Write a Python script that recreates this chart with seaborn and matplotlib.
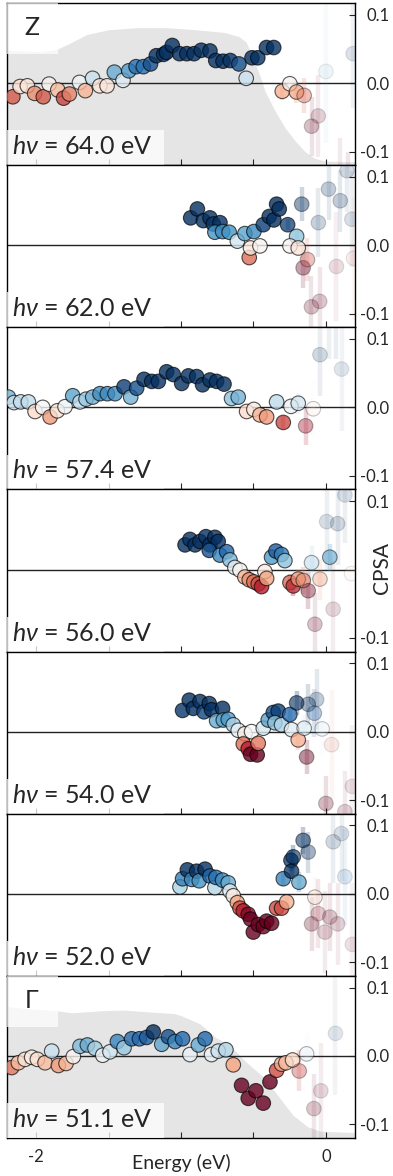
import numpy as np
import pandas as pd
import matplotlib
matplotlib.use('Agg')
import matplotlib.pyplot as plt
from matplotlib.patches import Rectangle
import seaborn as sns

# photon energies of the 7 panels (top to bottom)
hv_labels = ['64.0', '62.0', '57.4', '56.0', '54.0', '52.0', '51.1']

# panel 1 (Z)
e1 = [-2.16, -2.11, -2.06, -2.01, -1.95, -1.91, -1.85, -1.81, -1.77, -1.70, -1.66, -1.61, -1.56, -1.51,
      -1.46, -1.40, -1.36, -1.31, -1.26, -1.21, -1.17, -1.12, -1.10, -1.06, -1.01, -0.96, -0.91, -0.86,
      -0.80, -0.76, -0.71, -0.66, -0.60, -0.55, -0.51, -0.47, -0.41, -0.36]
v1 = [-0.020, -0.005, -0.004, -0.015, -0.020, -0.0015, -0.010, -0.022, -0.016, 0.001, -0.011, 0.007, -0.004, -0.004,
      0.016, 0.004, 0.018, 0.024, 0.024, 0.028, 0.040, 0.042, 0.045, 0.055, 0.043, 0.043, 0.043, 0.048,
      0.047, 0.033, 0.032, 0.033, 0.028, 0.007, 0.037, 0.037, 0.052, 0.052]
e1t = [-0.301, -0.249, -0.203, -0.150, -0.099, -0.053, 0.0, 0.188, 0.10, 0.15]
v1t = [-0.012, -0.001, -0.013, -0.018, -0.063, -0.048, 0.017, 0.043, -0.14, -0.15]
err1t = [0.012, 0.015, 0.016, 0.026, 0.043, 0.06, 0.105, 0.08, 0.06, 0.05]

# panel 2
e2 = [-0.933, -0.887, -0.846, -0.800, -0.777, -0.731, -0.766, -0.713, -0.667, -0.611, -0.559, -0.529, -0.520,
      -0.497, -0.455, -0.432, -0.391, -0.359, -0.340, -0.322]
v2 = [0.040, 0.053, 0.036, 0.040, 0.031, 0.033, 0.019, 0.020, 0.019, 0.006, 0.017, -0.018, -0.004,
      0.020, -0.001, 0.030, 0.042, 0.037, 0.060, 0.053]
e2t = [-0.264, -0.202, -0.248, -0.191, -0.167, -0.157, -0.127, -0.100, -0.052, -0.043, 0.018, 0.073, 0.099,
       0.145, 0.179, 0.191]
v2t = [0.030, 0.013, -0.001, -0.004, 0.060, -0.033, -0.021, -0.090, 0.033, -0.082, 0.082, -0.031, 0.065,
       0.109, 0.038, -0.019]
err2t = [0.008, 0.01, 0.01, 0.012, 0.025, 0.03, 0.032, 0.045, 0.05, 0.05, 0.045, 0.08, 0.045, 0.06, 0.07, 0.09]

# panel 3
e3 = [-2.191, -2.152, -2.106, -2.053, -2.007, -1.954, -1.903, -1.853, -1.800, -1.747, -1.697, -1.655, -1.609,
      -1.559, -1.508, -1.455, -1.393, -1.347, -1.306, -1.255, -1.202, -1.156, -1.099, -1.053, -0.995, -0.949,
      -0.892, -0.851, -0.800, -0.754, -0.703, -0.651, -0.605, -0.547, -0.497, -0.455, -0.409, -0.340]
v3 = [0.015, 0.007, 0.008, 0.008, -0.006, 0.0, -0.014, -0.005, 0.001, 0.017, 0.008, 0.012, 0.015,
      0.020, 0.020, 0.020, 0.030, 0.015, 0.028, 0.041, 0.038, 0.038, 0.052, 0.048, 0.035, 0.046,
      0.045, 0.033, 0.040, 0.038, 0.034, 0.013, 0.015, -0.006, -0.003, -0.011, -0.014, 0.008]
e3t = [-0.294, -0.241, -0.191, -0.140, -0.087, -0.041, 0.108, 0.02, 0.07]
v3t = [-0.022, 0.0015, 0.006, -0.027, -0.002, 0.077, 0.056, 0.14, 0.13]
err3t = [0.01, 0.012, 0.015, 0.028, 0.04, 0.06, 0.09, 0.07, 0.06]

# panel 4
e4 = [-0.972, -0.938, -0.903, -0.869, -0.828, -0.800, -0.766, -0.743, -0.805, -0.731, -0.685, -0.662, -0.628,
      -0.593, -0.559, -0.529, -0.497, -0.467, -0.444, -0.421, -0.409, -0.375, -0.345, -0.306, -0.283]
v4 = [0.036, 0.044, 0.036, 0.041, 0.048, 0.036, 0.047, 0.041, 0.028, 0.021, 0.026, 0.014, 0.003,
      -0.001, -0.011, -0.015, -0.018, -0.021, -0.025, -0.003, -0.013, 0.018, 0.027, 0.022, 0.013]
e4t = [-0.248, -0.225, -0.191, -0.156, -0.122, -0.099, -0.076, -0.041, 0.005, 0.027, 0.050, 0.081, 0.131, 0.177]
v4t = [-0.019, -0.024, -0.014, -0.016, -0.031, 0.010, -0.080, -0.014, 0.070, 0.018, -0.058, 0.067, 0.109, -0.006]
err4t = [0.012, 0.014, 0.015, 0.02, 0.027, 0.025, 0.045, 0.03, 0.07, 0.02, 0.07, 0.06, 0.07, 0.09]

# panel 5
e5 = [-0.989, -0.943, -0.915, -0.869, -0.841, -0.805, -0.789, -0.713, -0.754, -0.708, -0.674, -0.639, -0.605,
      -0.559, -0.513, -0.570, -0.536, -0.520, -0.474, -0.467, -0.432, -0.398, -0.363, -0.329, -0.352, -0.306]
v5 = [0.031, 0.046, 0.034, 0.044, 0.029, 0.041, 0.032, 0.034, 0.016, 0.017, 0.018, 0.010, 0.002,
      -0.003, 0.0, -0.018, -0.025, -0.033, -0.034, -0.017, 0.005, 0.017, 0.028, 0.030, 0.013, 0.010]
e5t = [-0.249, -0.237, -0.202, -0.191, -0.150, -0.133, -0.122, -0.080, -0.064, -0.026, 0.0, 0.039, 0.131, 0.182]
v5t = [0.025, 0.003, 0.042, -0.012, 0.005, -0.037, 0.040, 0.027, 0.047, 0.004, -0.105, -0.019, -0.117, -0.080]
err5t = [0.01, 0.01, 0.018, 0.015, 0.02, 0.025, 0.03, 0.035, 0.045, 0.04, 0.04, 0.08, 0.06, 0.09]

# panel 6
e6 = [-1.007, -0.989, -0.956, -0.926, -0.892, -0.874, -0.834, -0.800, -0.766, -0.759, -0.713, -0.674, -0.662,
      -0.639, -0.611, -0.593, -0.570, -0.536, -0.520, -0.501, -0.467, -0.432, -0.409, -0.375, -0.340, -0.306]
v6 = [0.010, 0.022, 0.035, 0.021, 0.033, 0.019, 0.036, 0.026, 0.009, 0.024, 0.020, 0.016, 0.004,
      -0.003, -0.013, -0.021, -0.025, -0.030, -0.037, -0.056, -0.045, -0.048, -0.040, -0.043, -0.021, -0.021]
e6t = [-0.294, -0.271, -0.241, -0.237, -0.225, -0.186, -0.157, -0.122, -0.099, -0.076, -0.053, -0.007, 0.027,
       0.050, 0.081, 0.108, 0.131, 0.182]
v6t = [0.022, -0.012, 0.049, 0.033, 0.054, 0.017, 0.078, 0.061, -0.044, -0.005, -0.029, -0.056, -0.034,
       0.076, -0.044, 0.088, 0.025, -0.074]
err6t = [0.01, 0.008, 0.015, 0.012, 0.018, 0.015, 0.02, 0.03, 0.04, 0.03, 0.05, 0.06, 0.05, 0.06, 0.06, 0.07,
         0.07, 0.09]

# panel 7 (Gamma)
e7 = [-2.168, -2.122, -2.076, -2.030, -1.991, -1.938, -1.892, -1.846, -1.793, -1.743, -1.697, -1.646, -1.593,
      -1.540, -1.490, -1.439, -1.393, -1.340, -1.287, -1.237, -1.191, -1.133, -1.087, -1.041, -0.989, -0.938,
      -0.880, -0.834, -0.789, -0.743, -0.690, -0.639, -0.582, -0.536, -0.483, -0.432, -0.386, -0.340]
v7 = [-0.017, -0.010, -0.005, -0.002, -0.005, -0.010, 0.007, -0.014, -0.011, -0.001, 0.014, 0.016, 0.011,
      0.001, 0.006, 0.021, 0.012, 0.025, 0.025, 0.027, 0.035, 0.017, 0.028, 0.021, 0.025, 0.002,
      0.016, 0.025, 0.002, 0.007, 0.009, -0.013, -0.043, -0.062, -0.051, -0.069, -0.038, -0.021]
e7t = [-0.306, -0.276, -0.230, -0.184, -0.133, -0.083, -0.035, 0.066]
v7t = [-0.012, -0.010, -0.006, -0.022, 0.003, -0.077, -0.051, 0.033]
err7t = [0.01, 0.012, 0.012, 0.03, 0.03, 0.05, 0.07, 0.09]

# grey intensity backgrounds (top and bottom panels)
fill1_e = [-2.2, -1.97, -1.86, -1.77, -1.65, -1.50, -1.30, -1.10, -0.90, -0.70, -0.60, -0.55, -0.50, -0.45,
           -0.42, -0.35, -0.28, -0.21, -0.145, -0.076, 0.0, 0.2]
fill1_v = [0.048, 0.046, 0.049, 0.058, 0.071, 0.078, 0.081, 0.081, 0.078, 0.074, 0.068, 0.060, 0.035, 0.008,
           -0.012, -0.041, -0.066, -0.085, -0.100, -0.110, -0.114, -0.115]
fill7_e = [-2.2, -2.0, -1.86, -1.75, -1.55, -1.40, -1.20, -1.05, -1.0, -0.87, -0.76, -0.66, -0.55, -0.43,
           -0.32, -0.23, -0.13, -0.04, 0.2]
fill7_v = [0.072, 0.068, 0.066, 0.063, 0.066, 0.067, 0.064, 0.062, 0.059, 0.047, 0.027, 0.015, -0.009, -0.031,
           -0.061, -0.086, -0.103, -0.110, -0.112]

panels = [(e1, v1, e1t, v1t, err1t), (e2, v2, e2t, v2t, err2t), (e3, v3, e3t, v3t, err3t),
          (e4, v4, e4t, v4t, err4t), (e5, v5, e5t, v5t, err5t), (e6, v6, e6t, v6t, err6t),
          (e7, v7, e7t, v7t, err7t)]
fills = {0: (fill1_e, fill1_v), 6: (fill7_e, fill7_v)}
corner = {0: 'Z', 6: '\u0393'}

sns.set_style('white')
plt.rcParams['font.family'] = ['Lato', 'DejaVu Sans']
plt.rcParams['mathtext.fontset'] = 'custom'
plt.rcParams['mathtext.it'] = 'Lato:italic'
plt.rcParams['mathtext.rm'] = 'Lato'
plt.rcParams['axes.unicode_minus'] = False

cmap = sns.color_palette('RdBu', as_cmap=True)
norm = plt.Normalize(-0.032, 0.032)

fig, axes = plt.subplots(7, 1, figsize=(3.93, 11.76), dpi=100, sharex=True)
fig.subplots_adjust(left=0.018, right=0.903, bottom=0.0323, top=0.9974, hspace=0)

for i, ax in enumerate(axes):
    e, v, et, vt, errt = panels[i]
    if i in fills:
        fe, fv = fills[i]
        ax.fill_between(fe, -0.2, fv, color='#e5e5e5', lw=0, zorder=0)
    ax.axhline(0, color='#222222', lw=1.0, zorder=1)

    df = pd.DataFrame({'E': np.r_[e, et], 'V': np.r_[v, vt]})
    err = np.r_[np.zeros(len(e)), errt]
    alpha = np.r_[np.full(len(e), 0.8), np.clip(0.011 / np.array(errt), 0.1, 0.75)]
    fc = cmap(norm(df['V'].values))
    fc[:, 3] = alpha

    # error bars of the points near the Fermi level
    bc = fc.copy()
    bc[:, 3] = alpha * 0.45
    n = len(e)
    ax.vlines(df['E'][n:], (df['V'] - err)[n:], (df['V'] + err)[n:], colors=bc[n:], lw=3.2, zorder=2)

    sns.scatterplot(data=df, x='E', y='V', hue='V', palette='RdBu', hue_norm=norm, s=110,
                    legend=False, ax=ax, zorder=3, edgecolor='k', linewidth=0.8)
    coll = ax.collections[-1]
    ec = np.zeros_like(fc)
    ec[:, 3] = alpha * 0.85
    coll.set_facecolors(fc)
    coll.set_edgecolors(ec)

    ax.set_xlim(-2.2, 0.2)
    ax.set_ylim(-0.12, 0.117)
    ax.set_xlabel('')
    ax.set_ylabel('')
    for sp in ax.spines.values():
        sp.set_color('black')
        sp.set_linewidth(1.0)

    ax.yaxis.tick_right()
    ax.set_yticks([-0.1, 0.0, 0.1])
    # the middle panel carries the CPSA label instead of its 0.0 tick label
    ax.set_yticklabels(['-0.1', '' if i == 3 else '0.0', '0.1'])
    ax.tick_params(axis='y', direction='in', length=4, width=0.8, right=True, left=False,
                   labelright=True, labelleft=False, labelsize=12, pad=25)
    for lbl in ax.get_yticklabels():
        lbl.set_horizontalalignment('right')
    ax.set_xticks(np.arange(-2.0, 0.01, 0.5))
    ax.tick_params(axis='x', direction='in', length=4, width=0.8, bottom=True, top=False, labelsize=12)

    # photon energy label with translucent white box
    ax.add_patch(Rectangle((0, 0), 0.45, 0.215, transform=ax.transAxes, facecolor='white',
                           alpha=0.75, edgecolor='none', zorder=4))
    ax.text(0.014, 0.068, r'$h\nu$ = ' + hv_labels[i] + ' eV', transform=ax.transAxes,
            fontsize=18, va='baseline', ha='left', zorder=5)
    if i in corner:
        ax.add_patch(Rectangle((0, 0.685), 0.147, 0.315, transform=ax.transAxes, facecolor='white',
                               alpha=0.7, edgecolor='none', zorder=4))
        ax.text(0.05, 0.80, corner[i], transform=ax.transAxes, fontsize=18,
                va='baseline', ha='left', zorder=5)

axes[-1].set_xticklabels(['-2', '', '', '', '0'])
axes[-1].tick_params(axis='x', pad=8)
axes[-1].set_xlabel('Energy (eV)', fontsize=14, labelpad=-8)
fig.text(382 / 393, 1 - 568 / 1176, 'CPSA', rotation=90, ha='center', va='center', fontsize=15)

fig.savefig('out.png', dpi=100)
